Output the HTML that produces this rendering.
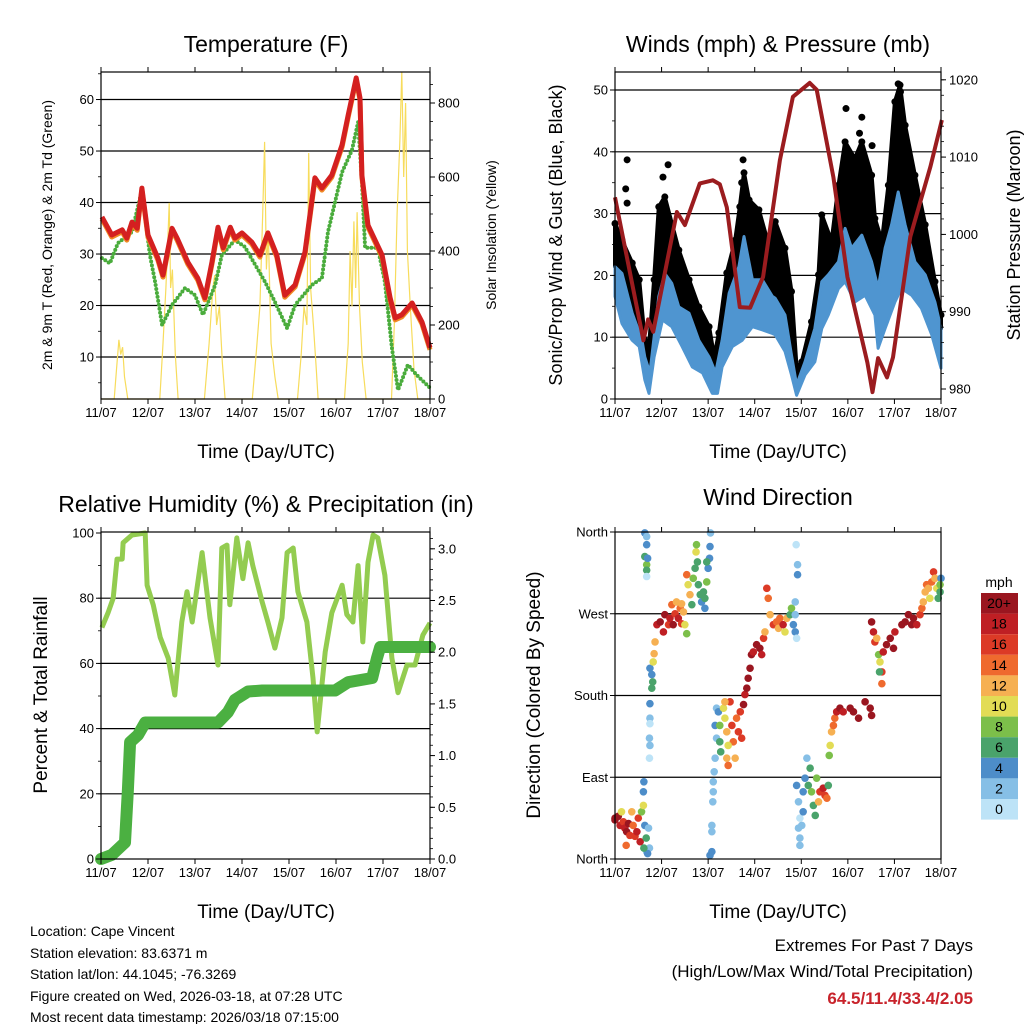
<!DOCTYPE html>
<html><head><meta charset="utf-8"><style>
html,body{margin:0;padding:0;background:#fff}
svg{display:block;font-family:"Liberation Sans",Arial,sans-serif}
</style></head><body>
<svg id="fig" width="1024" height="1024" viewBox="0 0 1024 1024">
<rect x="0" y="0" width="1024" height="1024" fill="#fff"/>
<g id="layer-axes-under"></g>
<g id="layer-marks"></g>
<g id="layer-axes"></g>
<text x="266" y="52" font-size="23" text-anchor="middle">Temperature (F)</text>
<text x="778" y="52" font-size="23" text-anchor="middle">Winds (mph) &amp; Pressure (mb)</text>
<text x="266" y="512" font-size="23" text-anchor="middle">Relative Humidity (%) &amp; Precipitation (in)</text>
<text x="778" y="505" font-size="23" text-anchor="middle">Wind Direction</text>
<text x="266" y="458" font-size="19" text-anchor="middle">Time (Day/UTC)</text>
<text x="778" y="458" font-size="19" text-anchor="middle">Time (Day/UTC)</text>
<text x="266" y="918" font-size="19" text-anchor="middle">Time (Day/UTC)</text>
<text x="778" y="918" font-size="19" text-anchor="middle">Time (Day/UTC)</text>
<text transform="translate(52,235) rotate(-90)" font-size="14" text-anchor="middle">2m &amp; 9m T (Red, Orange) &amp; 2m Td (Green)</text>
<text transform="translate(496,235) rotate(-90)" font-size="14" text-anchor="middle">Solar Insolation (Yellow)</text>
<text transform="translate(562,235) rotate(-90)" font-size="18" text-anchor="middle">Sonic/Prop Wind &amp; Gust (Blue, Black)</text>
<text transform="translate(1020,235) rotate(-90)" font-size="18" text-anchor="middle">Station Pressure (Maroon)</text>
<text transform="translate(47,695) rotate(-90)" font-size="19" text-anchor="middle">Percent &amp; Total Rainfall</text>
<text transform="translate(540,695) rotate(-90)" font-size="19" text-anchor="middle">Direction (Colored By Speed)</text>
<g font-size="14">
<text x="30" y="936">Location: Cape Vincent</text>
<text x="30" y="958">Station elevation: 83.6371 m</text>
<text x="30" y="979">Station lat/lon: 44.1045; -76.3269</text>
<text x="30" y="1001">Figure created on Wed, 2026-03-18, at 07:28 UTC</text>
<text x="30" y="1022">Most recent data timestamp: 2026/03/18 07:15:00</text>
</g>
<text x="973" y="951" font-size="17" text-anchor="end">Extremes For Past 7 Days</text>
<text x="973" y="977" font-size="17" text-anchor="end">(High/Low/Max Wind/Total Precipitation)</text>
<text x="973" y="1004" font-size="17" font-weight="bold" fill="#c8232b" text-anchor="end">64.5/11.4/33.4/2.05</text>
<text x="999" y="587" font-size="14" text-anchor="middle">mph</text>
</svg>
<script>
// ---------- DATA ----------
const dayLabels = ["11/07","12/07","13/07","14/07","15/07","16/07","17/07","18/07"];
const tempTicks = [10,20,30,40,50,60];
const solarTicks = [0,200,400,600,800];
const windTicks = [0,10,20,30,40,50];
const presTicks = [980,990,1000,1010,1020];
const rhTicks = [0,20,40,60,80,100];
const precipTicks = [0,0.5,1,1.5,2,2.5,3];
const precipTickLabels = ["0.0","0.5","1.0","1.5","2.0","2.5","3.0"];
const dirTicks = [0,90,180,270,360];
const dirTickLabels = ["North","East","South","West","North"];
const speedBins = ["0","2","4","6","8","10","12","14","16","18","20+"];
const speedColors = ["#bde3f7","#86bfe6","#4d8dc9","#4aa36b","#7cbf4a","#e2dc55","#f6b052","#ef6a2e","#dc3a26","#bf1f24","#9a1620"];

const tempT = [0.02,0.23,0.45,0.55,0.66,0.77,0.87,1.0,1.21,1.32,1.51,1.62,1.85,2.06,2.21,2.36,2.49,2.6,2.75,2.85,3.0,3.21,3.38,3.55,3.74,3.91,4.13,4.34,4.55,4.7,4.91,5.13,5.26,5.43,5.51,5.55,5.68,5.98,6.15,6.26,6.4,6.62,6.83,7];
const tempRed = [37.2,33.7,34.7,33.1,36.2,35,42.8,33.7,29.2,25.9,35,33.1,28.4,25.3,21.5,28.4,35.2,31.2,35.2,33.1,34.1,32.3,29.8,34.1,29.8,22,24,30.4,44.8,42.8,45.3,51.2,57,64.2,60.3,45.3,35.6,29.8,21.5,17.6,18.2,20.5,16.8,11.8];
const dewT = [0.02,0.19,0.36,0.66,0.87,1.04,1.15,1.30,1.51,1.79,2.0,2.17,2.43,2.57,2.85,3.06,3.28,3.49,3.70,3.96,4.13,4.49,4.70,4.83,5.13,5.34,5.47,5.55,5.62,5.89,6.04,6.19,6.32,6.53,6.72,7];
const dewVals = [29.2,28.2,32.1,34.3,42.4,29.8,24.6,16.2,20.1,23.4,22,18.2,24,29.8,32.7,31.4,27.9,24.6,20.7,15.6,20.1,24,25.3,34.3,45.9,50.2,55.6,44,31.2,31.2,24.6,11.8,3.6,8.5,6.5,4];
const solarT = [0,0.28,0.33,0.38,0.42,0.46,0.5,0.57,1.25,1.32,1.38,1.42,1.45,1.48,1.52,1.58,1.64,2.2,2.3,2.38,2.42,2.46,2.52,2.58,2.64,3.22,3.3,3.38,3.44,3.48,3.52,3.56,3.62,3.7,3.77,4.18,4.26,4.32,4.38,4.42,4.46,4.52,4.58,4.62,5.18,5.26,5.3,5.34,5.38,5.42,5.45,5.5,5.56,5.64,6.18,6.24,6.3,6.36,6.4,6.44,6.48,6.52,6.58,6.66,6.74,7];
const solarVals = [0,0,80,160,120,140,60,0,0,150,300,420,530,300,350,120,0,0,150,300,335,200,250,100,0,0,120,250,500,695,350,450,150,60,0,0,120,250,200,665,300,200,80,0,0,150,400,250,480,300,505,250,100,0,0,200,500,700,885,600,800,400,250,80,0,0];

// wind: gust upper envelope, wind (blue) upper and lower envelopes
const gustTopT = [0,0.15,0.37,0.52,0.64,0.73,0.84,0.94,1.07,1.22,1.37,1.59,1.8,2.02,2.13,2.23,2.4,2.58,2.68,2.77,2.88,3.09,3.31,3.44,3.65,3.79,3.9,4.01,4.22,4.37,4.44,4.65,4.8,4.94,5.15,5.3,5.51,5.58,5.73,5.87,6.01,6.12,6.23,6.44,6.66,6.87,7.0];
const gustTopVals = [28.4,25.7,22,19.3,9.5,8.4,19.3,31.1,32.7,28.4,24.1,19.3,14.9,11.7,6.8,10.7,20.4,25.7,31.1,36.6,32.2,30.6,24.6,28.7,24.4,17.4,5,6,12.5,20.1,29.8,25.5,34.6,41.6,38.9,41.6,36.2,29.2,25.5,34.6,48.1,50.8,44.3,36.2,28.2,19,13.6];
const windTopT = [0,0.15,0.37,0.58,0.64,0.75,0.94,1.07,1.22,1.37,1.59,1.8,2.02,2.16,2.3,2.45,2.66,2.77,2.95,3.16,3.38,3.44,3.65,3.79,3.9,4.08,4.29,4.44,4.58,4.8,4.94,5.08,5.3,5.51,5.65,5.8,5.94,6.08,6.23,6.44,6.66,6.87,7.0];
const windTopVals = [21.4,20.3,13.9,9.5,6.8,4.2,16.6,20.3,18.7,14.9,13.9,9.5,6.8,4.2,9.5,17.1,21.4,26.3,19.3,19.3,16.6,16.3,13.6,7.1,2.3,6,11.4,19,20.1,22.2,27.6,24.4,26.5,22.2,17.9,24.4,28.2,33.5,28.2,22.2,20.1,15.7,11.4];
const windLowT = [0,0.15,0.37,0.52,0.64,0.73,0.84,1.02,1.22,1.44,1.66,1.88,2.09,2.2,2.3,2.52,2.73,2.95,3.16,3.38,3.44,3.65,3.79,3.9,4.08,4.29,4.44,4.58,4.8,4.94,5.15,5.37,5.58,5.65,5.8,6.01,6.15,6.37,6.58,6.8,7.0];
const windLowVals = [16.6,12.2,9.5,8.5,3.1,0.9,6.8,12.8,11.7,8.5,5.2,4.2,0.9,0.9,5.2,8.5,9.5,11.7,11.2,10.6,10.4,7.7,3.9,0.6,3.9,6,11.4,13.6,17.9,19,15.7,16.8,13.6,8.2,11.4,15.7,17.9,16.8,14.7,10.4,5];
const gustOutT = [0.26,0.26,0.23,1.14,1.03,1.0,2.75,2.72,4.96,5.3,5.25,5.52,6.08,6.13,6.1];
const gustOutVals = [38.7,31.7,34,37.9,35.9,31,38.7,35,47,45.6,43,41,51,49.7,47];
const presT = [0,0.61,0.71,0.82,1.33,1.5,1.82,2.1,2.25,2.4,2.68,2.9,3.18,3.54,3.82,4.18,4.33,4.69,4.99,5.42,5.53,5.65,5.84,5.97,6.34,6.77,7.02];
const presVals = [1004.8,986.3,989,987.4,1002.9,1001.2,1006.6,1007,1006.5,1003.5,990.6,990.5,994.5,1009.6,1017.8,1019.6,1018.7,1007.4,994.5,983.4,979.6,984,981.5,984.1,999.7,1008.7,1014.8];

const rhT = [0.02,0.15,0.26,0.34,0.45,0.47,0.66,0.94,0.98,1.11,1.26,1.43,1.57,1.72,1.83,1.94,2.15,2.32,2.49,2.57,2.68,2.74,2.89,3.02,3.13,3.23,3.43,3.55,3.70,3.85,3.96,4.09,4.19,4.38,4.51,4.60,4.77,4.91,5.13,5.23,5.36,5.47,5.57,5.68,5.79,5.89,6.04,6.19,6.32,6.51,6.68,6.85,7];
const rhVals = [71,75.5,80,92,92,97,99.4,100,84,78,68,61.6,50.3,72.7,82,72.7,94,74,59.5,95.4,96.3,78,98.5,86,97,90,78.8,72.7,64.7,74,94,95.4,82,72.7,55.5,39,63.5,75.5,84,75,72.7,90,66.6,91,99.4,98.5,87,61.6,51,59.5,59.5,68.7,72.4];
const prT = [0,0.23,0.51,0.57,0.62,0.79,0.94,2.49,2.7,2.85,3.13,3.43,4.98,5.26,5.77,5.87,5.94,7];
const prVals = [0,0.04,0.16,0.65,1.13,1.2,1.32,1.32,1.42,1.54,1.62,1.63,1.63,1.71,1.75,1.94,2.05,2.05];

const dirT = [0,0,0.07,0.11,0.18,0.21,0.25,0.29,0.32,0.36,0.39,0.43,0.47,0.50,0.54,0.14,0.24,0.57,0.61,0.61,0.62,0.64,0.67,0.68,0.72,0.74,0.70,0.62,
0.64,0.68,0.68,0.64,0.68,0.68,0.68,0.70,0.75,0.79,0.81,0.79,0.82,0.84,0.75,0.75,0.75,0.74,0.75,0.74,
0.86,0.90,0.97,1.04,1.07,1.15,1.18,1.25,1.29,1.36,1.40,1.43,1.47,1.50,1.54,1.22,1.32,1.43,
1.54,1.57,1.61,1.65,1.68,1.72,1.74,1.75,1.77,1.79,1.83,1.86,1.90,1.93,1.97,2.00,2.03,2.04,2.05,1.97,1.93,
2.18,2.15,2.18,2.15,2.13,2.11,2.11,2.10,2.08,2.08,2.04,2.08,
2.22,2.25,2.25,2.27,2.33,2.36,2.40,2.40,2.43,2.47,2.51,2.54,2.58,2.61,2.65,2.69,2.72,2.36,2.43,
2.76,2.79,2.83,2.86,2.90,2.93,2.97,3.04,3.11,3.15,3.19,3.22,
3.26,3.29,3.33,3.40,3.47,3.51,3.54,3.61,3.65,3.69,3.76,3.79,3.83,3.87,3.87,3.90,3.89,3.92,3.92,3.87,
3.90,3.94,3.97,3.97,4.01,4.04,4.04,4.08,4.12,4.15,4.19,4.22,4.26,4.30,4.33,4.37,4.40,4.47,4.51,4.55,4.58,3.97,3.94,
4.60,4.62,4.65,4.69,4.72,4.76,4.83,4.90,5.05,5.12,5.23,5.37,5.48,5.51,
5.51,5.55,5.58,5.62,5.66,5.69,5.73,5.73,5.76,5.83,5.91,5.98,6.01,5.68,
6.16,6.23,6.30,6.37,6.41,6.48,6.55,6.59,6.62,6.66,6.69,6.73,6.76,6.80,6.84,6.87,6.91,6.94,6.98,7.0,6.98];
const dirVals = [43,45,47,37,41,34,30,39,26,52,37,25,30,45,19,52,15,52,59,74,85,37,23,8,34,12,6,12,
359,355,346,333,324,318,311,331,210,203,195,188,217,226,171,155,149,133,125,111,
239,258,261,250,269,258,265,258,270,265,276,259,272,258,248,280,283,281,
313,302,291,280,309,320,338,346,327,302,291,283,294,276,305,320,331,344,359,327,287,
166,147,133,111,96,85,74,63,37,30,4,8,
162,147,129,118,166,155,140,111,103,173,147,129,111,155,140,162,133,173,125,
170,181,188,199,210,225,228,236,232,225,243,250,
298,287,269,258,261,254,265,258,250,265,269,276,258,283,250,243,346,324,313,269,
81,63,45,23,37,52,74,89,111,81,100,74,59,48,89,63,74,78,70,67,81,15,34,
114,125,140,147,155,162,166,162,166,162,155,173,166,158,
261,250,239,243,225,217,206,193,228,236,243,232,250,206,
258,261,269,258,265,258,269,276,283,294,302,298,287,305,316,309,298,287,294,309,302];
const dirSpeeds = [20,20,20,18,16,18,20,20,16,12,14,16,18,16,18,10,14,8,10,4,4,4,6,2,2,2,4,6,
4,2,4,6,8,6,0,4,4,4,6,6,10,12,4,2,0,2,2,0,
12,18,20,18,20,16,18,20,16,18,14,16,12,10,8,14,12,12,
14,10,12,6,8,6,10,8,6,6,6,4,6,4,8,4,4,4,2,6,6,
2,4,2,2,2,2,2,2,2,2,4,4,
4,8,6,6,10,10,12,12,14,16,16,14,12,14,16,16,16,12,10,
20,18,20,20,20,20,18,20,20,18,16,12,
16,14,12,16,14,12,14,18,10,12,6,8,4,2,4,0,0,2,4,2,
4,2,0,2,2,4,4,4,2,6,6,8,6,6,8,12,16,18,16,14,6,2,2,
8,10,12,14,14,18,20,18,20,20,20,20,20,20,
20,18,16,12,8,10,16,14,18,20,20,20,18,6,
20,20,20,20,20,18,16,14,12,12,14,12,10,14,16,12,10,6,6,4,8];

// ---------- AXES ----------
const NS = "http://www.w3.org/2000/svg";
const marks = document.getElementById("layer-marks");
const axes = document.getElementById("layer-axes");
const under = document.getElementById("layer-axes-under");
function mk(tag, attrs, parent){ const e=document.createElementNS(NS,tag); for(const k in attrs) e.setAttribute(k,attrs[k]); parent.appendChild(e); return e; }

const P1={x0:101,x1:430,y0:72,y1:399}, P2={x0:615,x1:941,y0:72,y1:399}, P3={x0:101,x1:430,y0:532,y1:859}, P4={x0:615,x1:941,y0:532,y1:859};
function xs(P){ return d => P.x0 + d*(P.x1-P.x0)/7; }
const x1=xs(P1), x2=xs(P2), x3=xs(P3), x4=xs(P4);
const yTemp = v => 399-(v-1.85)*5.15;
const ySolar = w => 399-w*0.37;
const yWind = v => 399-v*6.18;
const yPres = p => 389-(p-980)*7.73;
const yRH = v => 859-v*3.26;
const yPrec = v => 859-v*103.4;
const yDir = d => 859-d*327/360;

function ptList(ts, vs, fx, fy){ return ts.map((t,i)=>fx(t).toFixed(1)+","+fy(vs[i]).toFixed(1)); }
function pts(ts, vs, fx, fy){ return ptList(ts,vs,fx,fy).join(" "); }

function frame(P, name, leftTicks, leftLabels, fyL, leftMinorStep, rightTicks, rightLabels, fyR, rightMinorStep, gridVals, fx){
  for(const v of gridVals){
    const g=mk("line",{x1:P.x0,x2:P.x1,y1:fyL(v),y2:fyL(v),stroke:"#000","stroke-width":1.2},under);
    
    
  }
  const r=mk("rect",{x:P.x0,y:P.y0,width:P.x1-P.x0,height:P.y1-P.y0,fill:"none",stroke:"#000","stroke-width":1.2},axes);
  
  
  leftTicks.forEach((v,i)=>{
    const y=fyL(v);
    const tk=mk("line",{x1:P.x0-5,x2:P.x0,y1:y,y2:y,stroke:"#000"},axes);
    
    
    const tx=mk("text",{x:P.x0-7,y:y+4.5,"font-size":13,"text-anchor":"end"},axes);
    
    
    tx.textContent=leftLabels[i];
  });
  if(leftMinorStep){
    for(let v=leftTicks[0]-leftMinorStep*4; v<=leftTicks[leftTicks.length-1]+leftMinorStep*4; v+=leftMinorStep){
      const y=fyL(v); if(y<P.y0||y>P.y1) continue;
      const tk=mk("line",{x1:P.x0-3,x2:P.x0,y1:y,y2:y,stroke:"#000","stroke-width":0.8},axes);
      
      
    }
  }
  if(rightTicks){
    rightTicks.forEach((v,i)=>{
      const y=fyR(v);
      const tk=mk("line",{x1:P.x1,x2:P.x1+5,y1:y,y2:y,stroke:"#000"},axes);
      
      
      const tx=mk("text",{x:P.x1+8,y:y+4.5,"font-size":13},axes);
      
      
      tx.textContent=rightLabels[i];
    });
    for(let v=rightTicks[0]-rightMinorStep*4; v<=rightTicks[rightTicks.length-1]+rightMinorStep*4; v+=rightMinorStep){
      const y=fyR(v); if(y<P.y0||y>P.y1) continue;
      const tk=mk("line",{x1:P.x1,x2:P.x1+3,y1:y,y2:y,stroke:"#000","stroke-width":0.8},axes);
      
      
    }
  }
  for(let q=0;q<=7;q++){
    const x=fx(q);
    const tk=mk("line",{x1:x,x2:x,y1:P.y1,y2:P.y1+5,stroke:"#000"},axes);
    
    
    const tt=mk("line",{x1:x,x2:x,y1:P.y0,y2:P.y0-5,stroke:"#000"},axes);
    
    
  }
  dayLabels.forEach((lab,i)=>{
    const tx=mk("text",{x:fx(i),y:P.y1+18,"font-size":13,"text-anchor":"middle"},axes);
    
    
    tx.textContent=lab;
  });
}
frame(P1,"temperature",tempTicks,tempTicks.map(String),yTemp,5,solarTicks,solarTicks.map(String),ySolar,50,tempTicks,x1);
frame(P2,"winds",windTicks,windTicks.map(String),yWind,5,presTicks,presTicks.map(String),yPres,2,[10,20,30,40,50],x2);
frame(P3,"humidity",rhTicks,rhTicks.map(String),yRH,10,precipTicks,precipTickLabels,yPrec,0.1,[20,40,60,80],x3);
frame(P4,"wind-direction",dirTicks,dirTickLabels,yDir,null,null,null,null,null,[90,180,270],x4);

// ---------- PANEL 1 ----------
let el;
el=mk("polyline",{points:pts(solarT,solarVals,x1,ySolar),fill:"none",stroke:"#f7dc5c","stroke-width":1.2},marks);


el=mk("polyline",{points:pts(dewT,dewVals,x1,yTemp),fill:"none",stroke:"#4aac3c","stroke-width":4,"stroke-linecap":"round","stroke-dasharray":"0 4","stroke-linejoin":"round"},marks);


el=mk("polyline",{points:pts(tempT,tempRed,x1,yTemp),fill:"none",stroke:"#f08a24","stroke-width":5,"stroke-linejoin":"round",transform:"translate(0,2)"},marks);


el=mk("polyline",{points:pts(tempT,tempRed,x1,yTemp),fill:"none",stroke:"#d42020","stroke-width":5,"stroke-linejoin":"round"},marks);



// ---------- PANEL 2 ----------
const gustPoly = ptList(gustTopT,gustTopVals,x2,yWind).concat(ptList(windTopT,windTopVals,x2,yWind).reverse());
el=mk("polygon",{points:gustPoly.join(" "),fill:"#000",stroke:"#000","stroke-width":4,"stroke-linejoin":"round"},marks);


gustTopT.forEach((t,i)=>{
  const c=mk("circle",{cx:x2(t),cy:yWind(gustTopVals[i]),r:3.5,fill:"#000"},marks);
  
  
});
gustOutT.forEach((t,i)=>{
  const c=mk("circle",{cx:x2(t),cy:yWind(gustOutVals[i]),r:3.5,fill:"#000"},marks);
  
  
});
const windPoly = ptList(windTopT,windTopVals,x2,yWind).concat(ptList(windLowT,windLowVals,x2,yWind).reverse());
el=mk("polygon",{points:windPoly.join(" "),fill:"#4f95d0",stroke:"#4f95d0","stroke-width":3,"stroke-linejoin":"round"},marks);


el=mk("polyline",{points:pts(presT,presVals,x2,yPres),fill:"none",stroke:"#9b1c1f","stroke-width":4,"stroke-linejoin":"round"},marks);



// ---------- PANEL 3 ----------
el=mk("polyline",{points:pts(rhT,rhVals,x3,yRH),fill:"none",stroke:"#93cc50","stroke-width":5,"stroke-linejoin":"round"},marks);


el=mk("polyline",{points:pts(prT,prVals,x3,yPrec),fill:"none",stroke:"#4bb041","stroke-width":12,"stroke-linejoin":"round","stroke-linecap":"round"},marks);



// ---------- PANEL 4 ----------
dirT.forEach((t,i)=>{
  const s=dirSpeeds[i], bi=Math.min(10,Math.floor(s/2));
  const c=mk("circle",{cx:x4(t),cy:yDir(dirVals[i]),r:3.8,fill:speedColors[bi]},marks);
  
  
});
const cbTop=593, cbH=20.6;
speedBins.forEach((lab,i)=>{
  const k=speedBins.length-1-i;
  const y=cbTop+i*cbH;
  const r=mk("rect",{x:981,y:y,width:37,height:cbH,fill:speedColors[k]},axes);
  
  
  const tx=mk("text",{x:999,y:y+15,"font-size":14,"text-anchor":"middle"},axes);
  
  
  tx.textContent=speedBins[k];
});
</script>
</body></html>
